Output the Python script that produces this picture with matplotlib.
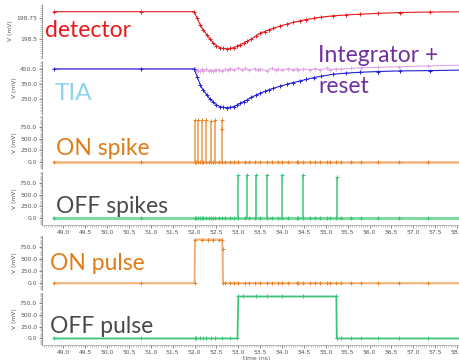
import numpy as np
import matplotlib
matplotlib.use("Agg")
import matplotlib.pyplot as plt
from matplotlib.ticker import AutoMinorLocator, FormatStrFormatter, FixedLocator

# simulator sample times (ns)
grid_t = [48.79, 50.78, 52.0, 52.04, 52.08, 52.12, 52.16, 52.2, 52.27, 52.33, 52.37,
          52.42, 52.46, 52.55, 52.62, 52.7, 52.8, 52.89, 53.0, 53.15, 53.25, 53.38,
          53.5, 53.65, 53.76, 53.91, 53.99, 54.14, 54.33, 54.37, 54.48, 54.64, 54.75,
          54.87, 55.02, 55.09, 55.23, 55.34, 55.57, 55.80, 56.19, 56.67, 57.34, 58.4]

# detector (mV)
det_t = [48.79, 50.78, 51.99, 52.06, 52.13, 52.2, 52.28, 52.35, 52.43, 52.5, 52.58, 52.66,
         52.74, 52.81, 52.89, 52.96, 53.04, 53.12, 53.19, 53.3, 53.4, 53.5, 53.6, 53.7,
         53.8, 53.95, 54.11, 54.25, 54.41, 54.55, 54.72, 54.9, 55.17, 55.45, 55.78,
         56.2, 56.7, 57.38, 58.4]
det_v = [198.83, 198.83, 198.83, 198.75, 198.67, 198.61, 198.55, 198.5, 198.45, 198.42,
         198.395, 198.385, 198.38, 198.385, 198.395, 198.41, 198.43, 198.45, 198.47,
         198.5, 198.535, 198.57, 198.59, 198.61, 198.63, 198.655, 198.68, 198.7, 198.72,
         198.735, 198.75, 198.765, 198.78, 198.79, 198.8, 198.81, 198.82, 198.826, 198.83]

# TIA output (mV)
tia_t = [48.79, 50.78, 51.99, 52.06, 52.13, 52.2, 52.28, 52.35, 52.43, 52.5, 52.58, 52.66,
         52.74, 52.81, 52.89, 52.96, 53.04, 53.12, 53.19, 53.3, 53.4, 53.5, 53.6, 53.7,
         53.8, 53.95, 54.11, 54.25, 54.41, 54.55, 54.72, 54.9, 55.17, 55.45, 55.78,
         56.2, 56.7, 57.38, 58.4]
tia_v = [452, 452, 452, 400, 345, 310, 279, 252, 230, 214, 201, 196, 194, 196, 201, 210,
         223, 234, 245, 262, 277, 290, 302, 313, 323, 337, 350, 361, 372, 382, 394, 404,
         417, 424, 430, 435, 439, 441, 446]

# integrator + reset (mV)
int_t = [48.79, 50.78, 52.01, 52.05, 52.08, 52.12, 52.16, 52.2, 52.27, 52.33, 52.37, 52.42,
         52.46, 52.5, 52.55, 52.62, 52.7, 52.76, 52.8, 52.89, 53.0, 53.08, 53.15, 53.25,
         53.38, 53.45, 53.5, 53.65, 53.76, 53.85, 53.91, 53.99, 54.14, 54.25, 54.33, 54.37,
         54.48, 54.64, 54.75, 54.87, 55.02, 55.09, 55.23, 55.34, 55.57, 55.80, 56.19,
         56.67, 57.34, 58.4]
int_v = [452, 452, 452, 440, 448, 436, 450, 438, 452, 437, 447, 440, 446, 442, 448, 440,
         450, 443, 455, 447, 458, 446, 456, 444, 455, 445, 452, 440, 456, 446, 452, 443,
         455, 445, 453, 444, 452, 447, 455, 446, 457, 448, 452, 450, 456, 460, 463, 467,
         472, 479]

# spikes (ns, mV)
on_spike_t = [52.01, 52.08, 52.16, 52.27, 52.37, 52.46, 52.62]
on_spike_v = [900, 890, 900, 895, 880, 890, 900]
off_spike_t = [53.0, 53.19, 53.41, 53.66, 54.0, 54.47, 55.26]
off_spike_v = [915, 915, 915, 915, 915, 915, 880]

# pulses (ns, mV)
on_pulse_t = [48.79, 50.78, 52.0, 52.01, 52.16, 52.3, 52.42, 52.55, 52.63, 52.64, 52.65,
              52.7, 52.8, 52.89, 53.0, 53.15, 53.25, 53.38, 53.5, 53.65, 53.76, 53.91,
              53.99, 54.14, 54.33, 54.37, 54.48, 54.64, 54.75, 54.87, 55.02, 55.09, 55.23,
              55.34, 55.57, 55.80, 56.19, 56.67, 57.34, 58.4]
on_pulse_v = [0, 0, 0, 900, 900, 900, 900, 900, 900, 700, 0, 0, 0, 0, 0, 0, 0, 0, 0, 0,
              0, 0, 0, 0, 0, 0, 0, 0, 0, 0, 0, 0, 0, 0, 0, 0, 0, 0, 0, 0]
off_pulse_t = [48.79, 50.78, 52.0, 52.04, 52.12, 52.2, 52.27, 52.37, 52.46, 52.62, 52.8,
               52.98, 53.0, 53.1, 53.4, 53.65, 54.0, 54.47, 55.24, 55.25, 55.26, 55.34,
               55.57, 55.80, 56.19, 56.67, 57.34, 58.4]
off_pulse_v = [0, 0, 0, 0, 0, 0, 0, 0, 0, 0, 0, 0, 900, 900, 900, 900, 900, 900, 900, 20,
               0, 0, 0, 0, 0, 0, 0, 0]

RED = "#e41a1c"
BLUE = "#2222d4"
PINK = "#e2a6e2"
ORANGE_L = "#f4b27a"
ORANGE = "#e6862a"
GREEN_L = "#7ddba4"
GREEN = "#3cc47a"
TICK = "#555555"

fig = plt.figure(figsize=(4.6, 3.6), dpi=100)
left, width = 42 / 460, 430 / 460
xlim = (48.513, 58.34)


def make_ax(top, bottom, show_x=False, zorder=1):
    ax = fig.add_axes([left, 1 - bottom / 360, width, (bottom - top) / 360], zorder=zorder)
    ax.set_xlim(*xlim)
    for s in ["top", "right"]:
        ax.spines[s].set_visible(False)
    ax.spines["left"].set_color("#888888")
    ax.spines["left"].set_linewidth(0.6)
    ax.spines["bottom"].set_color("#aaaaaa")
    ax.spines["bottom"].set_linewidth(0.6)
    ax.yaxis.set_minor_locator(AutoMinorLocator(10))
    ax.xaxis.set_major_locator(FixedLocator(np.arange(49.0, 58.01, 0.5)))
    ax.xaxis.set_major_formatter(FormatStrFormatter("%.1f"))
    ax.xaxis.set_minor_locator(AutoMinorLocator(10))
    ax.tick_params(axis="both", which="major", labelsize=4.3, length=2, width=0.5,
                   colors=TICK, pad=1.5)
    ax.tick_params(axis="both", which="minor", length=1.2, width=0.4, colors="#999999")
    if not show_x:
        ax.spines["bottom"].set_visible(False)
        ax.tick_params(axis="x", which="both", bottom=False, labelbottom=False)
    ax.set_ylabel("V (mV)", fontsize=4.3, color=TICK, labelpad=2)
    return ax


mk = dict(marker="+", markersize=2.5, markeredgewidth=0.7)

# detector
ax = make_ax(4, 58)
ax.plot(det_t, det_v, color=RED, lw=0.8, **mk)
ax.set_ylim(198.27, 198.923)
ax.set_yticks([198.5, 198.75])
ax.yaxis.set_major_formatter(FormatStrFormatter("%g"))

# TIA + integrator
ax = make_ax(61, 114)
ax.plot(int_t, int_v, color=PINK, lw=0.8, **mk)
ax.plot(tia_t, tia_v, color=BLUE, lw=0.8, **mk)
ax.set_ylim(152, 505)
ax.set_yticks([250, 350, 450])
ax.yaxis.set_major_formatter(FormatStrFormatter("%.1f"))

spike_lim = (-140, 975)

# ON spike
ax = make_ax(116, 169)
ax.plot(grid_t, np.zeros(len(grid_t)), color=ORANGE_L, lw=1.8, zorder=1)
ax.plot(grid_t, np.zeros(len(grid_t)), ls="none", color=ORANGE, **mk)
ax.vlines(on_spike_t, 0, on_spike_v, color="#ee9a4c", lw=1.1)
ax.plot(on_spike_t, on_spike_v, ls="none", color=ORANGE, **mk)
ax.plot(on_spike_t[-1:], [700], ls="none", color=ORANGE, **mk)
ax.set_ylim(*spike_lim)
ax.set_yticks([0, 250, 500, 750])
ax.yaxis.set_major_formatter(FormatStrFormatter("%.1f"))

# OFF spikes
ax = make_ax(172, 225, show_x=True)
ax.plot(grid_t, np.zeros(len(grid_t)), color=GREEN_L, lw=2.2, zorder=1)
ax.plot(grid_t, np.zeros(len(grid_t)), ls="none", color=GREEN, **mk)
ax.vlines(off_spike_t, 0, off_spike_v, color=GREEN, lw=1.1)
ax.plot(off_spike_t, off_spike_v, ls="none", color=GREEN, **mk)
ax.set_ylim(*spike_lim)
ax.set_yticks([0, 250, 500, 750])
ax.yaxis.set_major_formatter(FormatStrFormatter("%.1f"))
ax.set_xlabel("time (ns)", fontsize=4.3, color=TICK, labelpad=1)

# ON pulse (drawn above the previous x label)
ax = make_ax(236, 290, zorder=3)
ax.patch.set_facecolor("white")
ax.plot(on_pulse_t, on_pulse_v, color=ORANGE_L, lw=1.5, **mk, mec=ORANGE)
ax.set_ylim(*spike_lim)
ax.set_yticks([0, 250, 500, 750])
ax.yaxis.set_major_formatter(FormatStrFormatter("%.1f"))

# OFF pulse
ax = make_ax(293, 345, show_x=True, zorder=3)
ax.plot(off_pulse_t, off_pulse_v, color=GREEN, lw=1.3, **mk)
ax.set_ylim(*spike_lim)
ax.set_yticks([0, 250, 500, 750])
ax.yaxis.set_major_formatter(FormatStrFormatter("%.1f"))
ax.set_xlabel("time (ns)", fontsize=4.3, color=TICK, labelpad=0.5)

# panel labels
lab = dict(fontsize=16.5, family=["Lato", "DejaVu Sans"], va="baseline", zorder=10)
fig.text(45 / 460, 1 - 37 / 360, "detector", color="#e8191c", **lab)
fig.text(55 / 460, 1 - 100 / 360, "TIA", color="#8dd3ec",
         **{**lab, "fontsize": 17.5})
fig.text(318 / 460, 1 - 62 / 360, "Integrator +", color="#7030a0", **lab)
fig.text(318 / 460, 1 - 93 / 360, "reset", color="#7030a0", **lab)
fig.text(56 / 460, 1 - 155 / 360, "ON spike", color="#e07b16", **lab)
fig.text(56 / 460, 1 - 213 / 360, "OFF spikes", color="#4a4a4a", **lab)
fig.text(50 / 460, 1 - 270 / 360, "ON pulse", color="#e07b16", **lab)
fig.text(50 / 460, 1 - 333 / 360, "OFF pulse", color="#4a4a4a", **lab)

fig.savefig("out.png", dpi=100)
